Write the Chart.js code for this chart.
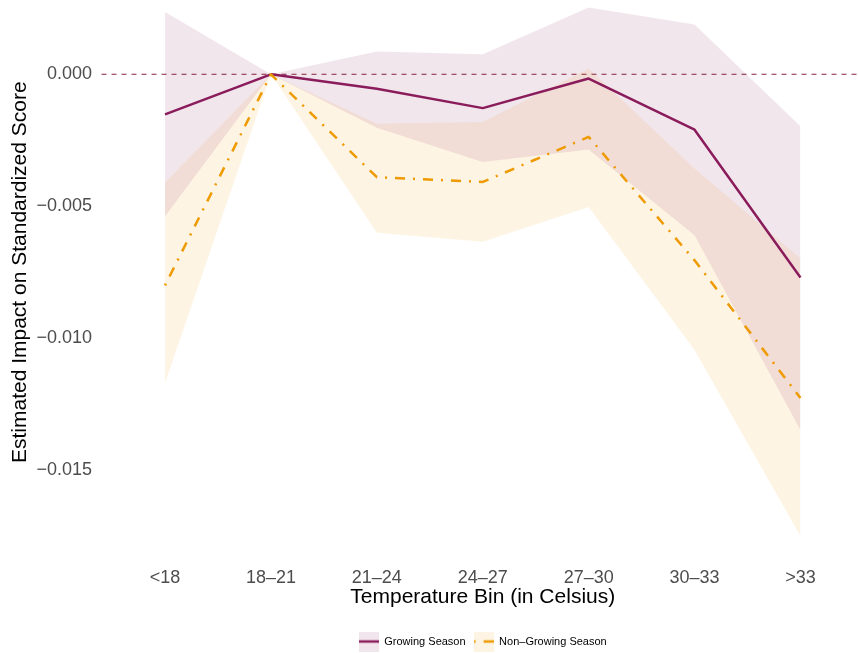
<!DOCTYPE html>
<html>
<head>
<meta charset="utf-8">
<script src="https://cdn.jsdelivr.net/npm/chart.js@4.4.1/dist/chart.umd.min.js"></script>
<style>
  html, body { margin: 0; padding: 0; background: #fff; overflow: hidden; }
  body { width: 858px; height: 653px; position: relative; }
  /* canvas is a bit bigger than the window so the panel can run past the top edge */
  #chart { position: absolute; left: 0; top: -18px; }
</style>
</head>
<body>
<canvas id="chart" width="864" height="675"></canvas>
<script>
// temperature bins and y ticks
var bins = ['<18', '18–21', '21–24', '24–27', '27–30', '30–33', '>33'];
var yTicks = [-0.015, -0.010, -0.005, 0.000];

// growing season: estimate and band
var growEst  = [-0.00152, 0, -0.00055, -0.00128, -0.00016, -0.0021, -0.0077];
var growHigh = [0.00236, 0, 0.00087, 0.00076, 0.00253, 0.00189, -0.00197];
var growLow  = [-0.00538, 0, -0.00202, -0.00332, -0.00285, -0.0061, -0.01348];

// non-growing season: estimate and band
var nonEst  = [-0.0080, 0, -0.0039, -0.00408, -0.00237, -0.00705, -0.01227];
var nonHigh = [-0.0041, 0, -0.00187, -0.00181, 0.00022, -0.00357, -0.00698];
var nonLow  = [-0.0117, 0, -0.0060, -0.00635, -0.00503, -0.01045, -0.0175];

var PURPLE = '#8A1C5B';
var ORANGE = '#EE9A00';
var PURPLE_BAND = 'rgba(138, 28, 91, 0.11)';
var ORANGE_BAND = 'rgba(238, 154, 0, 0.11)';
var DOTDASH = [2, 8, 10, 8];
var FONT = "'Liberation Sans', Arial, Helvetica, sans-serif";

Chart.defaults.font.family = FONT;

function pts(arr) {
  return arr.map(function (v, i) { return { x: i, y: v }; });
}

// legend key: band colour behind a short line sample
function makeKey(fill, stroke, dash) {
  var c = document.createElement('canvas');
  c.width = 20; c.height = 20;
  var g = c.getContext('2d');
  g.fillStyle = fill;
  g.fillRect(0, 0, 20, 20);
  g.strokeStyle = stroke;
  g.lineWidth = 2.5;
  g.setLineDash(dash);
  g.beginPath();
  g.moveTo(0, 10);
  g.lineTo(20, 10);
  g.stroke();
  return c;
}

// dashed reference line at zero
var zeroLine = {
  id: 'zeroLine',
  beforeDatasetsDraw: function (chart) {
    var ctx = chart.ctx;
    var area = chart.chartArea;
    var y = chart.scales.y.getPixelForValue(0);
    ctx.save();
    ctx.strokeStyle = 'rgba(130, 30, 55, 0.75)';
    ctx.lineWidth = 1.3;
    ctx.setLineDash([5, 5]);
    ctx.beginPath();
    ctx.moveTo(area.left, y);
    ctx.lineTo(area.right, y);
    ctx.stroke();
    ctx.restore();
  }
};

var band = { borderWidth: 0, pointRadius: 0, order: 10 };

new Chart(document.getElementById('chart'), {
  type: 'line',
  data: {
    datasets: [
      Object.assign({ label: 'g_hi', data: pts(growHigh), fill: '+1', backgroundColor: PURPLE_BAND }, band),
      Object.assign({ label: 'g_lo', data: pts(growLow), fill: false }, band),
      Object.assign({ label: 'n_hi', data: pts(nonHigh), fill: '+1', backgroundColor: ORANGE_BAND }, band),
      Object.assign({ label: 'n_lo', data: pts(nonLow), fill: false }, band),
      {
        label: 'Growing Season', data: pts(growEst), borderColor: PURPLE,
        borderWidth: 2.5, pointRadius: 0, fill: false, order: 1
      },
      {
        label: 'Non–Growing Season', data: pts(nonEst), borderColor: ORANGE,
        borderWidth: 2.5, borderDash: DOTDASH, pointRadius: 0, fill: false, order: 0
      }
    ]
  },
  options: {
    responsive: false,
    animation: false,
    devicePixelRatio: 1,
    layout: { padding: 0, autoPadding: false },
    elements: { line: { tension: 0, borderJoinStyle: 'round' } },
    plugins: {
      tooltip: { enabled: false },
      legend: {
        position: 'bottom',
        fullSize: false,
        labels: {
          usePointStyle: true,
          pointStyleWidth: 20,
          padding: 8,
          color: '#1A1A1A',
          font: { size: 11 },
          generateLabels: function () {
            return [
              { text: 'Growing Season', pointStyle: makeKey(PURPLE_BAND, PURPLE, []), datasetIndex: 4, lineWidth: 0 },
              { text: 'Non–Growing Season', pointStyle: makeKey(ORANGE_BAND, ORANGE, DOTDASH), datasetIndex: 5, lineWidth: 0 }
            ];
          }
        }
      }
    },
    scales: {
      x: {
        type: 'linear',
        min: -0.6,
        max: 6.6,
        grid: { display: false, drawTicks: false },
        border: { display: false },
        afterBuildTicks: function (scale) {
          scale.ticks = bins.map(function (b, i) { return { value: i }; });
        },
        afterFit: function (scale) {
          scale.height = 65.6;
          scale.paddingLeft = 0;
          scale.paddingRight = 0;
        },
        ticks: {
          padding: 5,
          autoSkip: false,
          maxRotation: 0,
          color: '#4D4D4D',
          font: { size: 18 },
          callback: function (v) { return bins[v]; }
        },
        title: {
          display: true,
          text: 'Temperature Bin (in Celsius)',
          color: '#000',
          font: { size: 21 },
          padding: { top: 0, bottom: 18 }
        }
      },
      y: {
        min: -0.0185,
        max: 0.0035,
        grid: { display: false, drawTicks: false },
        border: { display: false },
        afterBuildTicks: function (scale) {
          scale.ticks = yTicks.map(function (v) { return { value: v }; });
        },
        afterFit: function (scale) {
          scale.width = 101.5;
          scale.paddingTop = 0;
          scale.paddingBottom = 0;
        },
        ticks: {
          padding: 9.5,
          color: '#4D4D4D',
          font: { size: 18 },
          callback: function (v) {
            return (v < 0 ? '−' : '') + Math.abs(v).toFixed(3);
          }
        },
        title: {
          display: true,
          text: 'Estimated Impact on Standardized Score',
          color: '#000',
          font: { size: 21 },
          padding: { top: 8, bottom: 0 }
        }
      }
    }
  },
  plugins: [zeroLine]
});
</script>
</body>
</html>
